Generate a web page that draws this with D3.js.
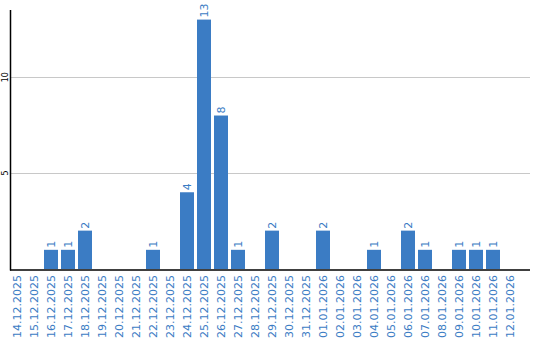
<!DOCTYPE html>
<html>
<head>
<meta charset="utf-8">
<script src="https://cdn.jsdelivr.net/npm/d3@7/dist/d3.min.js"></script>
<style>
body { margin: 0; background: #fff; }
text { font-family: "DejaVu Sans", Verdana, sans-serif; }
</style>
</head>
<body>
<div id="chart"></div>
<script>
var dates = ["14.12.2025", "15.12.2025", "16.12.2025", "17.12.2025", "18.12.2025", "19.12.2025",
	"20.12.2025", "21.12.2025", "22.12.2025", "23.12.2025", "24.12.2025", "25.12.2025",
	"26.12.2025", "27.12.2025", "28.12.2025", "29.12.2025", "30.12.2025", "31.12.2025",
	"01.01.2026", "02.01.2026", "03.01.2026", "04.01.2026", "05.01.2026", "06.01.2026",
	"07.01.2026", "08.01.2026", "09.01.2026", "10.01.2026", "11.01.2026", "12.01.2026"];
var counts = [0, 0, 1, 1, 2, 0, 0, 0, 1, 0, 4, 13, 8, 1, 0, 2, 0, 0, 2, 0, 0, 1, 0, 2, 1, 0, 1, 1, 1, 0];
var yTicks = [5, 10];

var width = 540, height = 340;
var plotLeft = 10, plotRight = 530, plotTop = 10, plotBottom = 269;
var blue = "#3b7cc4";

var data = dates.map(function(d, i) { return { date: d, value: counts[i] }; });

var x = d3.scaleBand()
		.domain(dates)
		.range([plotLeft, plotLeft + dates.length * 17 - 3])
		.paddingInner(3 / 17)
		.paddingOuter(0)
		.align(0);

var y = d3.scaleLinear()
		.domain([0, 13.5])
		.range([plotBottom, plotTop]);

var svg = d3.select("#chart").append("svg")
		.attr("width", width)
		.attr("height", height);

// grid lines
svg.selectAll(".grid")
		.data(yTicks)
	.enter().append("line")
		.attr("x1", plotLeft)
		.attr("x2", plotRight)
		.attr("y1", function(d) { return Math.round(y(d)) + 0.5; })
		.attr("y2", function(d) { return Math.round(y(d)) + 0.5; })
		.attr("stroke", "#c8c8c8")
		.attr("stroke-width", 1);

// y tick labels
svg.selectAll(".ytick")
		.data(yTicks)
	.enter().append("text")
		.attr("transform", function(d) { return "translate(8," + y(d) + ") rotate(-90)"; })
		.attr("text-anchor", "middle")
		.attr("font-size", "8px")
		.attr("fill", "#000")
		.text(function(d) { return d; });

// bars
svg.selectAll(".bar")
		.data(data.filter(function(d) { return d.value > 0; }))
	.enter().append("rect")
		.attr("x", function(d) { return x(d.date); })
		.attr("y", function(d) { return y(d.value); })
		.attr("width", x.bandwidth())
		.attr("height", function(d) { return y(0) - y(d.value); })
		.attr("fill", blue);

// value labels
svg.selectAll(".val")
		.data(data.filter(function(d) { return d.value > 0; }))
	.enter().append("text")
		.attr("transform", function(d) {
			return "translate(" + (x(d.date) + x.bandwidth() / 2 + 4) + "," + (y(d.value) - 2) + ") rotate(-90)";
		})
		.attr("text-anchor", "start")
		.attr("font-size", "11px")
		.attr("fill", blue)
		.text(function(d) { return d.value; });

// axes lines
svg.append("line")
		.attr("x1", plotLeft + 0.5).attr("x2", plotLeft + 0.5)
		.attr("y1", plotTop).attr("y2", plotBottom + 1.5)
		.attr("stroke", "#000").attr("stroke-width", 1.5);
svg.append("line")
		.attr("x1", plotLeft).attr("x2", plotRight)
		.attr("y1", plotBottom + 1).attr("y2", plotBottom + 1)
		.attr("stroke", "#000").attr("stroke-width", 1.5);

// date labels
svg.selectAll(".xlabel")
		.data(dates)
	.enter().append("text")
		.attr("transform", function(d) {
			return "translate(" + (x(d) + x.bandwidth() / 2 + 4) + ",275) rotate(-90)";
		})
		.attr("text-anchor", "end")
		.attr("font-size", "11px")
		.attr("fill", blue)
		.text(function(d) { return d; });
</script>
</body>
</html>
